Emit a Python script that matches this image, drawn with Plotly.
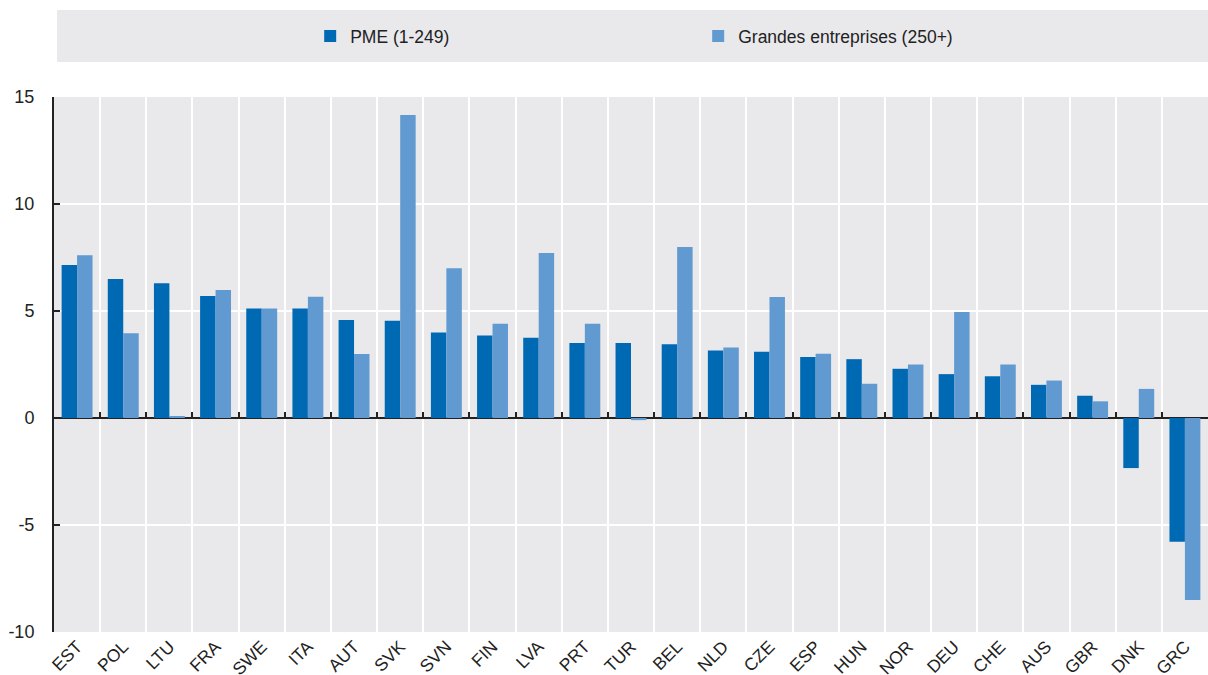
import plotly.graph_objects as go

# # data
countries = ['EST', 'POL', 'LTU', 'FRA', 'SWE', 'ITA', 'AUT', 'SVK', 'SVN', 'FIN',
             'LVA', 'PRT', 'TUR', 'BEL', 'NLD', 'CZE', 'ESP', 'HUN', 'NOR', 'DEU',
             'CHE', 'AUS', 'GBR', 'DNK', 'GRC']
pme = [7.15, 6.5, 6.3, 5.7, 5.12, 5.12, 4.58, 4.55, 4.0, 3.85,
       3.75, 3.5, 3.5, 3.45, 3.15, 3.1, 2.85, 2.75, 2.3, 2.05,
       1.95, 1.55, 1.04, -2.34, -5.78]
grandes = [7.6, 3.96, 0.05, 5.98, 5.12, 5.67, 2.99, 14.16, 7.0, 4.4,
           7.71, 4.4, -0.1, 7.99, 3.3, 5.65, 3.0, 1.6, 2.5, 4.95,
           2.5, 1.75, 0.78, 1.36, -8.5]
y_ticks = [-10, -5, 0, 5, 10, 15]
y_labels = ['-10', '-5', '0', '5', '10', '15']

font = "Liberation Sans, Arial, sans-serif"
bg = "#E9E9EC"

fig = go.Figure()
fig.add_trace(go.Bar(name='PME (1-249)', x=countries, y=pme,
                     marker=dict(color='#0069B4', line=dict(width=0))))
fig.add_trace(go.Bar(name='Grandes entreprises (250+)', x=countries, y=grandes,
                     marker=dict(color='#6199D1', line=dict(width=0))))
# invisible trace, only to carry the tick marks on the zero line
fig.add_trace(go.Scatter(x=countries, y=[0] * len(countries), xaxis='x2',
                         mode='markers', marker=dict(opacity=0),
                         showlegend=False, hoverinfo='skip'))

# legend background band
fig.add_shape(type='rect', xref='paper', yref='paper', x0=0.0026, x1=1,
              y0=1.0654, y1=1.1626, fillcolor=bg, line=dict(width=0), layer='below')

fig.update_layout(
    width=1208, height=675,
    margin=dict(l=54, r=0, t=97, b=43, autoexpand=False),
    paper_bgcolor='white', plot_bgcolor=bg,
    font=dict(family=font, size=17.5, color='#222222'),
    barmode='group', bargap=0.33, bargroupgap=0,
    legend=dict(orientation='h', x=0.222, y=1.114, xanchor='left', yanchor='middle',
                bgcolor='rgba(0,0,0,0)', entrywidth=343, itemwidth=30,
                font=dict(size=17.5)),
    xaxis=dict(type='category', tickson='boundaries', showgrid=True,
               gridcolor='white', gridwidth=2, ticks='', showline=False,
               tickangle=-45, tickfont=dict(size=17.5), zeroline=False,
               automargin=False, range=[-0.5, len(countries) - 0.5]),
    xaxis2=dict(type='category', overlaying='x', anchor='free', position=0.4,
                side='bottom', tickson='boundaries', ticks='inside', ticklen=6,
                tickwidth=2, tickcolor='#222222', showticklabels=False,
                showgrid=False, showline=False, zeroline=False, automargin=False,
                range=[-0.5, len(countries) - 0.5]),
    yaxis=dict(range=[-10, 15], tickvals=y_ticks, ticktext=y_labels, showgrid=True,
               gridcolor='white', gridwidth=2, showline=True, linecolor='#222222',
               linewidth=2, ticks='inside', ticklen=6, tickwidth=2,
               tickcolor='#222222', zeroline=True, zerolinecolor='#222222',
               zerolinewidth=2, ticklabelstandoff=14, tickfont=dict(size=18),
               automargin=False),
)

# page body has a default 8px margin, drop it so the figure fills the window
fig.write_html("out.html", config={'displayModeBar': False},
               post_script="document.body.style.margin='0';")
